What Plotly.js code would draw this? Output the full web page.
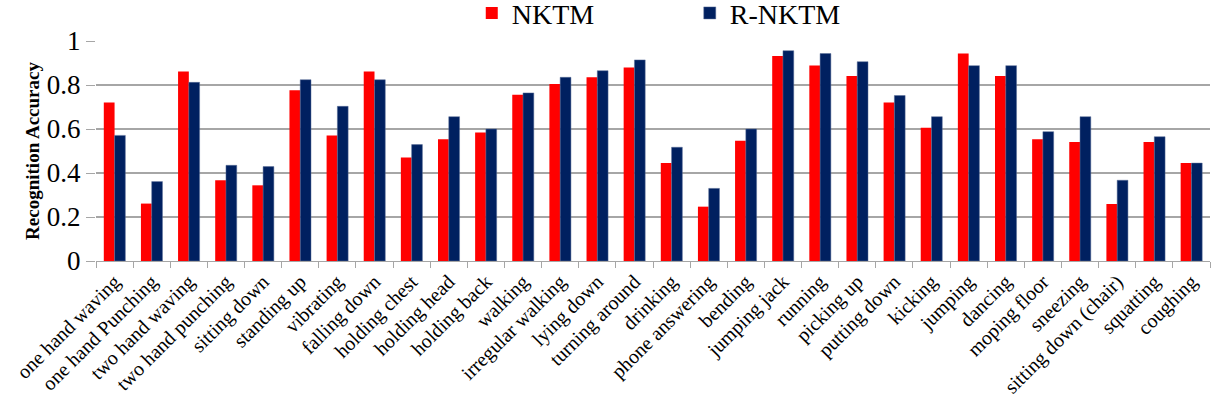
<!DOCTYPE html>
<html>
<head>
<meta charset="utf-8">
<script src="https://cdn.plot.ly/plotly-3.0.1.min.js"></script>
<style>
html,body{margin:0;padding:0;background:#fff;}
#chart{width:1212px;height:404px;}
#chart text{font-family:"Liberation Serif","Times New Roman",serif !important;}
</style>
</head>
<body>
<div id="chart"></div>
<script>
const categories = ["one hand waving","one hand Punching","two hand waving","two hand punching","sitting down","standing up","vibrating","falling down","holding chest","holding head","holding back","walking","irregular walking","lying down","turning around","drinking","phone answering","bending","jumping jack","running","picking up","putting down","kicking","jumping","dancing","moping floor","sneezing","sitting down (chair)","squatting","coughing"];
const nktm = [0.72,0.261,0.861,0.367,0.344,0.776,0.571,0.861,0.47,0.553,0.584,0.756,0.805,0.835,0.879,0.445,0.247,0.547,0.932,0.889,0.841,0.72,0.606,0.943,0.841,0.553,0.541,0.259,0.541,0.445];
const rnktm = [0.571,0.361,0.812,0.435,0.429,0.824,0.703,0.824,0.529,0.656,0.6,0.764,0.835,0.865,0.914,0.517,0.33,0.6,0.956,0.943,0.906,0.752,0.656,0.888,0.888,0.588,0.656,0.367,0.565,0.445];
const yTicks = [0,0.2,0.4,0.6,0.8,1];
const yTickLabels = ["0","0.2","0.4","0.6","0.8","1"];

const serif = "Liberation Serif";
const data = [
  {type:"bar", name:"NKTM", x:categories, y:nktm, marker:{color:"#FF0000"}},
  {type:"bar", name:"R-NKTM", x:categories, y:rnktm, marker:{color:"#002060", line:{color:"#5a6f99", width:0.5}}}
];
const layout = {
  width:1212, height:404,
  margin:{l:96, r:2, t:41, b:143, autoexpand:false},
  paper_bgcolor:"#fff", plot_bgcolor:"#fff",
  barmode:"group", bargap:0.42, bargroupgap:0,
  font:{family:serif, color:"#000"},
  showlegend:true,
  legend:{orientation:"h", x:0.533, xanchor:"center", y:1.24, yanchor:"top", yref:"paper",
          font:{family:serif, size:28, color:"#000"}, entrywidth:173, entrywidthmode:"pixels",
          itemwidth:30, traceorder:"normal", bgcolor:"rgba(0,0,0,0)"},
  xaxis:{type:"category", showline:true, linecolor:"#a6a6a6", linewidth:1.2,
         ticks:"outside", tickson:"boundaries", ticklen:6, tickcolor:"#a6a6a6",
         tickangle:-45, ticklabelstandoff:0, tickfont:{family:serif, size:20, color:"#000"}, automargin:false, showgrid:false},
  yaxis:{range:[0,1], tickvals:yTicks, ticktext:yTickLabels, ticksuffix:"\u2002", showline:false,
         ticks:"outside", ticklen:9, tickcolor:"#a6a6a6", gridcolor:"#a6a6a6", gridwidth:1.2,
         zeroline:false, tickfont:{family:serif, size:27, color:"#000"}, automargin:false,
         title:{text:"<b>Recognition Accuracy</b>", font:{family:serif, size:19, color:"#000"}, standoff:2}}
};
Plotly.newPlot("chart", data, layout, {displayModeBar:false, staticPlot:true});
</script>
</body>
</html>
